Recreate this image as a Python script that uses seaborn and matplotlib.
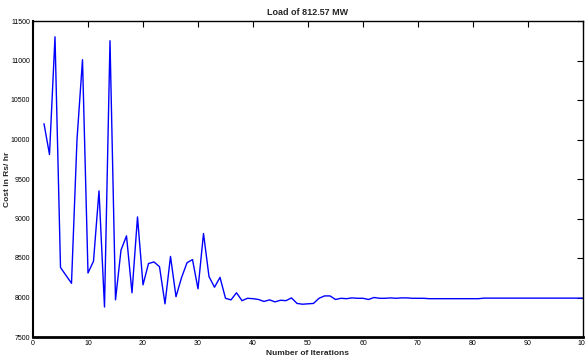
import matplotlib
matplotlib.use("Agg")
import matplotlib.pyplot as plt
import seaborn as sns
import pandas as pd
from matplotlib import font_manager

iterations = list(range(2, 101))
cost = [10200, 9810, 11300, 8380, 8280, 8180, 10000, 11010, 8310, 8460,
        9350, 7880, 11250, 7970, 8600, 8780, 8060, 9020, 8160, 8430,
        8450, 8390, 7920, 8520, 8010, 8250, 8440, 8480, 8110, 8810,
        8265, 8130, 8255, 7990, 7970, 8060, 7960, 7990, 7985, 7975,
        7950, 7970, 7945, 7965, 7960, 7995, 7925, 7915, 7920, 7925,
        7990, 8020, 8020, 7975, 7990, 7985, 7995, 7990, 7990, 7975,
        8000, 7990, 7990, 7995, 7990, 7995, 7995, 7990, 7990, 7990,
        7985, 7985, 7985, 7985, 7985, 7985, 7985, 7985, 7985, 7985,
        7992, 7992, 7992, 7992, 7992, 7992, 7992, 7992, 7992, 7992,
        7992, 7992, 7992, 7992, 7992, 7992, 7992, 7992, 7992]

x_ticks = [0, 10, 20, 30, 40, 50, 60, 70, 80, 90, 100]
y_ticks = [7500, 8000, 8500, 9000, 9500, 10000, 10500, 11000, 11500]
title = "Load of 812.57 MW"
xlabel = "Number of Iterations"
ylabel = "Cost in Rs/ hr"

sns.set_theme(style="white")
names = {f.name for f in font_manager.fontManager.ttflist}
fam = "Liberation Sans Narrow" if "Liberation Sans Narrow" in names else "Liberation Sans"
plt.rcParams["font.family"] = [fam, "DejaVu Sans"]

df = pd.DataFrame({"iter": iterations, "cost": cost})

fig = plt.figure(figsize=(5.85, 3.6), dpi=100)
ax = fig.add_axes([33/585, 23/360, 550/585, 316/360])
sns.lineplot(data=df, x="iter", y="cost", ax=ax, color="#0000ff", linewidth=1.0)

ax.set_xlim(0, 100)
ax.set_ylim(7500, 11500)
ax.set_xticks(x_ticks)
ax.set_yticks(y_ticks)
ax.tick_params(axis="both", direction="in", length=4, width=0.8, labelsize=5,
               colors="black", top=True, right=True, pad=2)
for s in ax.spines.values():
    s.set_visible(True)
    s.set_color("black")
    s.set_linewidth(1.0)
ax.spines["bottom"].set_linewidth(2.0)
ax.spines["left"].set_linewidth(1.5)
ax.set_title(title, fontsize=6.5, fontweight="bold", pad=4)
ax.set_xlabel(xlabel, fontsize=6, fontweight="bold", labelpad=2)
ax.set_ylabel(ylabel, fontsize=6, fontweight="bold")
ax.yaxis.set_label_coords(-22/550, 0.5)
ax.grid(False)

fig.savefig("out.png", dpi=100)
